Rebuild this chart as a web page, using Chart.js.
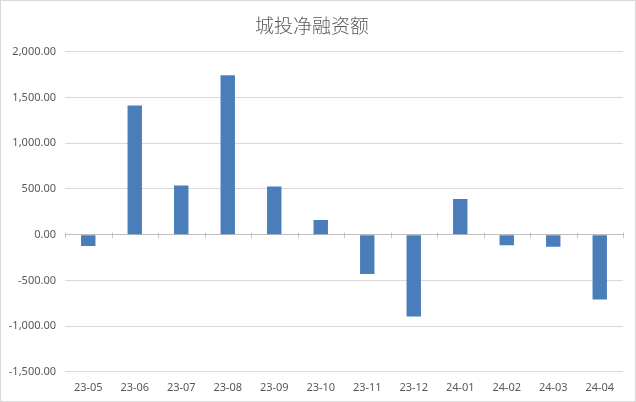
<!DOCTYPE html>
<html>
<head>
<meta charset="utf-8">
<script src="https://cdn.jsdelivr.net/npm/chart.js@4"></script>
<style>
  html, body { margin: 0; padding: 0; background: #fff; }
  #wrap { position: relative; width: 634px; height: 400px; border: 1px solid #d9d9d9; }
</style>
</head>
<body>
<div id="wrap"><canvas id="netChart"></canvas></div>
<script>
// data
const months = ['23-05', '23-06', '23-07', '23-08', '23-09', '23-10', '23-11', '23-12', '24-01', '24-02', '24-03', '24-04'];
const netFinancing = [-125, 1412, 537, 1743, 526, 161, -431, -896, 391, -117, -132, -709];
const yTicks = [-1500, -1000, -500, 0, 500, 1000, 1500, 2000];

const fmt = v => v.toLocaleString('en-US', { minimumFractionDigits: 2, maximumFractionDigits: 2 });

// small tick marks on the zero line, between categories
const zeroTicks = {
    id: 'zeroTicks',
    afterDatasetsDraw(chart) {
        const x = chart.scales.x, y = chart.scales.y;
        const y0 = y.getPixelForValue(0);
        const ctx = chart.ctx;
        ctx.save();
        ctx.strokeStyle = '#bfbfbf';
        ctx.lineWidth = 1;
        ctx.beginPath();
        for (let i = 0; i <= months.length; i++) {
            let px;
            if (i === 0) px = chart.chartArea.left;
            else if (i === months.length) px = chart.chartArea.right;
            else px = (x.getPixelForValue(i - 1) + x.getPixelForValue(i)) / 2;
            px = Math.round(px) + 0.5;
            ctx.moveTo(px, y0 - 2);
            ctx.lineTo(px, y0 + 3);
        }
        ctx.stroke();
        ctx.restore();
    }
};

document.addEventListener('DOMContentLoaded', function () {
    const ctx = document.getElementById('netChart');
    new Chart(ctx, {
        type: 'bar',
        data: {
            labels: months,
            datasets: [{
                label: '城投净融资额',
                data: netFinancing,
                backgroundColor: '#4a7ebb',
                barPercentage: 0.31,
                categoryPercentage: 1
            }]
        },
        options: {
            responsive: true,
            maintainAspectRatio: false,
            animation: false,
            layout: { padding: { left: 0, right: 12, top: 0, bottom: 6 } },
            plugins: {
                legend: { display: false },
                tooltip: { enabled: false },
                title: {
                    display: true,
                    text: '城投净融资额',
                    color: '#595959',
                    font: { family: '"Noto Sans CJK SC", sans-serif', size: 19, weight: 300 },
                    padding: { top: 13, bottom: 15 }
                }
            },
            scales: {
                x: {
                    grid: { display: false },
                    border: { display: false },
                    ticks: {
                        color: '#595959',
                        font: { family: '"Noto Sans", sans-serif', size: 11 },
                        maxRotation: 0,
                        padding: 1
                    }
                },
                y: {
                    min: -1500,
                    max: 2000,
                    afterBuildTicks: axis => { axis.ticks = yTicks.map(v => ({ value: v })); },
                    afterFit: axis => { axis.width = 64; },
                    border: { display: false },
                    grid: {
                        color: c => c.tick && c.tick.value === 0 ? '#bfbfbf' : '#d9d9d9',
                        drawTicks: false
                    },
                    ticks: {
                        color: '#595959',
                        font: { family: '"Noto Sans", sans-serif', size: 11 },
                        padding: 9,
                        callback: v => fmt(v)
                    }
                }
            }
        },
        plugins: [zeroTicks]
    });
});
</script>
</body>
</html>
